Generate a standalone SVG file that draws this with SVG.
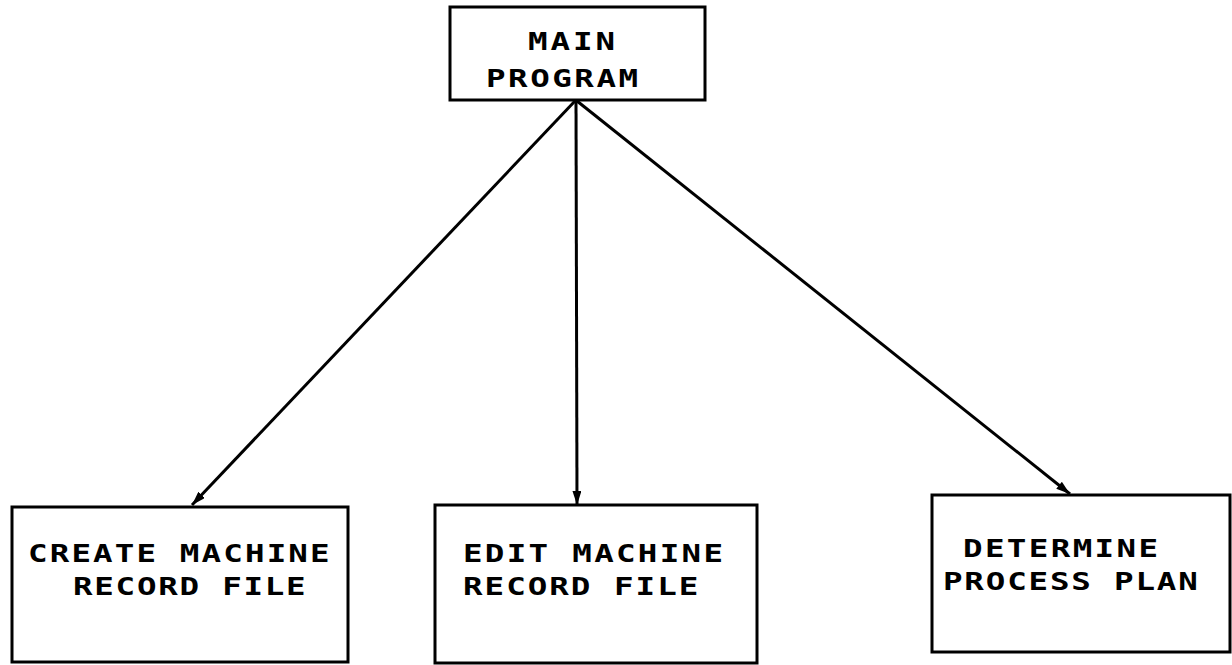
<svg xmlns="http://www.w3.org/2000/svg" width="1232" height="665" viewBox="0 0 1232 665">
  <style>
    .box { fill: #ffffff; stroke: #000000; stroke-width: 3; }
    .lbl { font-family: "DejaVu Sans Mono", "Liberation Mono", monospace; font-size: 25px; font-weight: bold; fill: #000000; }
    .edge { fill: none; stroke: #000000; stroke-width: 3; }
  </style>
  <defs>
    <marker id="arrow" viewBox="0 0 14 9" refX="14" refY="4.5" markerWidth="14" markerHeight="9" markerUnits="userSpaceOnUse" orient="auto">
      <path d="M0,0 L14,4.5 L0,9 Z" fill="#000000"/>
    </marker>
  </defs>
  <rect width="1232" height="665" fill="#ffffff"/>

  <g id="connectors">
    <line class="edge" x1="575" y1="101" x2="192" y2="505" marker-end="url(#arrow)"/>
    <line class="edge" x1="576" y1="101" x2="577" y2="505" marker-end="url(#arrow)"/>
    <line class="edge" x1="577" y1="101" x2="1070" y2="494" marker-end="url(#arrow)"/>
  </g>

  <!-- labels use a monospace face widened by 1.3 to get the plotter lettering -->
  <g id="main-program">
    <rect class="box" x="450" y="7" width="255" height="93"/>
    <text class="lbl" transform="translate(528,50) scale(1.3,1)" textLength="67" lengthAdjust="spacing">MAIN</text>
    <text class="lbl" transform="translate(486,87) scale(1.3,1)" textLength="117" lengthAdjust="spacing">PROGRAM</text>
  </g>

  <g id="create-machine-record-file">
    <rect class="box" x="12" y="507" width="336" height="155"/>
    <text class="lbl" transform="translate(28,562) scale(1.3,1)" textLength="232" lengthAdjust="spacing">CREATE MACHINE</text>
    <text class="lbl" transform="translate(73,595) scale(1.3,1)" textLength="179" lengthAdjust="spacing">RECORD FILE</text>
  </g>

  <g id="edit-machine-record-file">
    <rect class="box" x="435" y="505" width="322" height="158"/>
    <text class="lbl" transform="translate(463,562) scale(1.3,1)" textLength="200" lengthAdjust="spacing">EDIT MACHINE</text>
    <text class="lbl" transform="translate(463,595) scale(1.3,1)" textLength="181" lengthAdjust="spacing">RECORD FILE</text>
  </g>

  <g id="determine-process-plan">
    <rect class="box" x="932" y="495" width="298" height="157"/>
    <text class="lbl" transform="translate(963,557) scale(1.3,1)" textLength="150" lengthAdjust="spacing">DETERMINE</text>
    <text class="lbl" transform="translate(943,590) scale(1.3,1)" textLength="196" lengthAdjust="spacing">PROCESS PLAN</text>
  </g>
</svg>
